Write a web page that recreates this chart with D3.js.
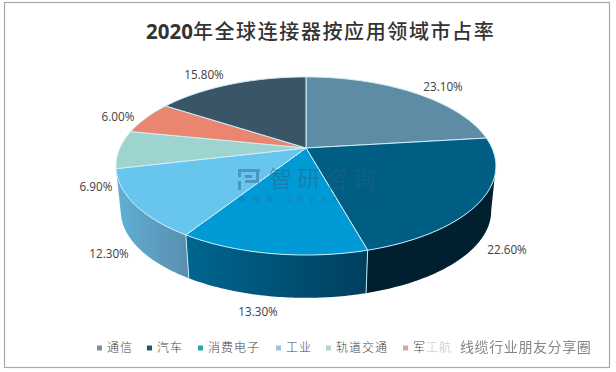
<!DOCTYPE html>
<html><head><meta charset="utf-8">
<script src="https://cdnjs.cloudflare.com/ajax/libs/d3/7.8.5/d3.min.js"></script>
<style>html,body{margin:0;padding:0;background:#fff}svg{display:block}</style>
</head><body><svg id="c" width="616" height="372"></svg>
<script>
const categories = ["通信","汽车","消费电子","工业","轨道交通","军工航天","其他"];
const shares = [23.1,22.6,13.3,12.3,6.9,6.0,15.8];
const topColors = ["#5f8ca5","#005e85","#009ad6","#68c6ee","#9ed4cf","#ea8670","#3a5566"];
const wallLeft  = ["#00202f","#00202f","#006690","#60b0d6","#60b0d6","#60b0d6","#60b0d6"];
const wallRight = ["#00202f","#00202f","#003f5e","#5a8fb0","#5a8fb0","#5a8fb0","#5a8fb0"];
const legendColors = ["#7d8f9b","#1f5a6b","#2aa6a8","#93c6d8","#b9d2d0","#d9a59a"];
const legendX = [97,147,198,276,326,403];
const labelXY = [[443,87],[507,250],[258,312],[109,254],[96,187],[118,117],[204,75]];

const svg = d3.select("#c");
const defs = svg.append("defs");
defs.append("filter").attr("id","soft").append("feGaussianBlur").attr("stdDeviation",0.35);

// tilted disc: a circle seen in perspective
const cx=306, cy=148, R=186, B=85.4, k=-0.202;
const project = (a,s,dy) => {
  const u=Math.sin(a), v=-Math.cos(a), w=1+k*v;
  return [cx+s*R*u/w, cy+s*B*v/w+dy];
};
const line = d3.line();
const pie = d3.pie().sort(null).value(d=>d)(shares);
const arcPts = (a0,a1,s,dy) => d3.range(0,61).map(i=>project(a0+(a1-a0)*i/60,s,dy));

// outer frame
svg.append("rect").attr("x",4.5).attr("y",2.5).attr("width",605).attr("height",365)
  .attr("fill","#fff").attr("stroke","#a8a8a8").attr("stroke-width",1.2);

// side walls
const wallFrom=1.77, wallTo=4.5;
pie.forEach((p,i)=>{
  const a0=Math.max(p.startAngle,wallFrom), a1=Math.min(p.endAngle,wallTo);
  if(a1<=a0) return;
  const topEdge=arcPts(a0,a1,1,0), botEdge=arcPts(a0,a1,0.975,45.5);
  const id="w"+i;
  const g=defs.append("linearGradient").attr("id",id).attr("gradientUnits","userSpaceOnUse")
    .attr("x1",topEdge[60][0]).attr("x2",topEdge[0][0]).attr("y1",0).attr("y2",0);
  g.append("stop").attr("offset",0).attr("stop-color",wallLeft[i]);
  g.append("stop").attr("offset",1).attr("stop-color",wallRight[i]);
  svg.append("path").attr("d",line(topEdge.concat(botEdge.reverse()))+"Z")
    .attr("fill",`url(#${id})`).attr("stroke","none");
  // seam at the start of each wall
  if(p.startAngle>=wallFrom && i<4){
    svg.append("path").attr("d",line([project(a0,1,0),project(a0,0.975,45.5)]))
      .attr("stroke","#c4e6f2").attr("stroke-width",1).attr("fill","none");
  }
});

// top faces
pie.forEach((p,i)=>{
  const pts=[[cx,cy]].concat(arcPts(p.startAngle,p.endAngle,1,0));
  svg.append("path").attr("d",line(pts)+"Z").attr("fill",topColors[i])
    .attr("stroke","#cdeefa").attr("stroke-width",1).attr("stroke-linejoin","round");
});

// watermark
const wm=svg.append("g").attr("fill","#2e5f80").attr("opacity",0.45);
wm.append("path").attr("d","M238 169h22v3h-19v5h-3zM238 181h3v9h-3zM245 180h11v-8h3v11h-14zM245 175h7v3h-7z");
wm.append("text").attr("x",269).attr("y",187).attr("font-size",23).attr("letter-spacing",5)
  .attr("font-family","'Noto Sans CJK SC'").text("智研咨询");
wm.append("text").attr("x",238).attr("y",202).attr("font-size",10).attr("letter-spacing",5.4)
  .attr("font-family","'DejaVu Sans'").attr("opacity",0.8).text("www.chyxx.com");

// title
const title=svg.append("text").attr("x",146).attr("y",39).attr("fill","#333").attr("font-size",20);
title.append("tspan").attr("font-family","'Open Sans'").attr("font-weight",700).attr("font-size",20.5).text("2020");
title.append("tspan").attr("font-family","'Noto Sans CJK SC'").attr("font-weight",500).attr("letter-spacing",1.6)
  .text("年全球连接器按应用领域市占率");

// value labels
shares.forEach((v,i)=>{
  svg.append("text").attr("x",labelXY[i][0]).attr("y",labelXY[i][1]+4).attr("text-anchor","middle")
    .attr("font-size",11.7).attr("font-family","'Open Sans'").attr("fill","#404040")
    .text(d3.format(".2f")(v)+"%");
});

// legend
categories.slice(0,6).forEach((c,i)=>{
  svg.append("rect").attr("x",legendX[i]).attr("y",345.5).attr("width",5).attr("height",5).attr("fill",legendColors[i]);
  const t=svg.append("text").attr("x",legendX[i]+10).attr("y",352).attr("font-size",12).attr("letter-spacing",1)
    .attr("font-family","'Noto Sans CJK SC'").attr("font-weight",300).attr("fill","#444");
  if(i==5){
    t.append("tspan").text(c.slice(0,1));
    t.append("tspan").attr("fill","#c4c4c4").text(c.slice(1,3));
  } else t.text(c);
});
// overlaid share caption
svg.append("text").attr("x",460).attr("y",352).attr("font-size",14).attr("letter-spacing",0.6)
  .attr("font-family","'Noto Sans CJK SC'").attr("fill","#858585").attr("filter","url(#soft)").text("线缆行业朋友分享圈");
</script></body></html>
